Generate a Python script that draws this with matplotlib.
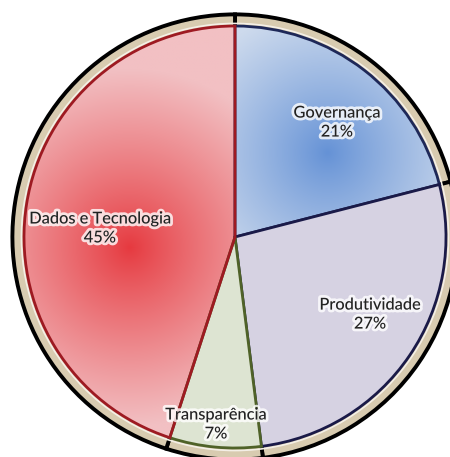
import numpy as np
import matplotlib
matplotlib.use("Agg")
import matplotlib.pyplot as plt
import matplotlib.patheffects as pe
from matplotlib.colors import LinearSegmentedColormap

# data
labels = ['Governança', 'Produtividade', 'Transparência', 'Dados e Tecnologia']
values = [21, 27, 7, 45]

# look
fills = ['#c6d5ea', '#d6d2e2', '#dde4d2', '#f0adb1']
edges = ['#1e2858', '#1a1a48', '#4f6228', '#9e1a22']
# radial gradient (inner colour, outer colour, centre, spread) for the shaded slices
grads = {0: ('#6592d6', '#cddaed', (0.44, 0.40), 0.70),
         3: ('#e63a40', '#f2c0c3', (-0.50, -0.05), 0.85)}
label_xy = [(0.483, 0.540), (0.640, -0.370), (-0.090, -0.891), (-0.640, 0.038)]

plt.rcParams['font.family'] = ['Lato', 'DejaVu Sans']

fig = plt.figure(figsize=(4.5, 4.57), dpi=100)
ax = fig.add_axes([0, 0, 1, 1])

# outer rim
rim, _ = ax.pie(values, startangle=90, counterclock=False, radius=1.055,
                colors=['#d8cbb0'] * len(values),
                wedgeprops=dict(edgecolor='black', linewidth=2.8))
ring = plt.Circle((0, 0), 1.012, facecolor='none', edgecolor='#f4efe6', linewidth=1.2)
ax.add_patch(ring)

# slices
wedges, _ = ax.pie(values, startangle=90, counterclock=False, radius=1.0,
                   colors=fills,
                   wedgeprops=dict(linewidth=2.0))
for w, ec in zip(wedges, edges):
    w.set_edgecolor(ec)
    w.set_zorder(3)

# gradient shading clipped to the slice
xx, yy = np.meshgrid(np.linspace(-1, 1, 400), np.linspace(1, -1, 400))
for i, (c0, c1, (cx, cy), spread) in grads.items():
    d = np.hypot(xx - cx, yy - cy)
    d = np.clip(d / spread, 0, 1) ** 0.9
    cmap = LinearSegmentedColormap.from_list('g%d' % i, [c0, c1])
    im = ax.imshow(d, cmap=cmap, extent=(-1, 1, -1, 1), zorder=2.5,
                   interpolation='bilinear', aspect='auto')
    im.set_clip_path(wedges[i])
    wedges[i].set_facecolor('none')

total = sum(values)
for (x, y), lab, v in zip(label_xy, labels, values):
    ax.text(x, y, '%s\n%d%%' % (lab, round(100 * v / total)), ha='center', va='center',
            fontsize=11.8, fontweight='medium', color='#222222', linespacing=1.45,
            zorder=5,
            path_effects=[pe.withStroke(linewidth=4, foreground='white', alpha=0.8)])

ax.set_xlim(-235 / 211, 215 / 211)
ax.set_ylim(-220 / 211, 237 / 211)
ax.set_aspect('auto')
ax.axis('off')

fig.savefig('out.png', dpi=100)
